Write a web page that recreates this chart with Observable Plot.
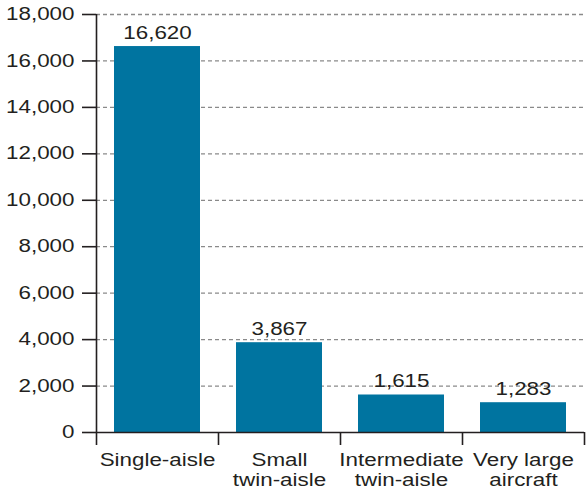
<!DOCTYPE html>
<html>
<head>
<meta charset="utf-8">
<script src="https://cdn.jsdelivr.net/npm/d3@7"></script>
<script src="https://cdn.jsdelivr.net/npm/@observablehq/plot@0.6"></script>
<style>
  html, body { margin: 0; padding: 0; background: #fff; }
</style>
</head>
<body>
<div id="chart"></div>
<script>
const categories = ["Single-aisle", "Small\ntwin-aisle", "Intermediate\ntwin-aisle", "Very large\naircraft"];
const deliveries = [16620, 3867, 1615, 1283];
const yTicks = [0, 2000, 4000, 6000, 8000, 10000, 12000, 14000, 16000, 18000];
const xBoundaries = [0, 1, 2, 3, 4];

const data = categories.map((c, i) => ({c, v: deliveries[i], i}));
const fmt = d3.format(",");
const ink = "#231f20";

const chart = Plot.plot({
  width: 586,
  height: 488,
  marginLeft: 96,
  marginRight: 2,
  marginTop: 14,
  marginBottom: 56,
  style: {fontSize: "17.5px", fontFamily: "'Liberation Sans', Arial, sans-serif", color: ink, background: "#fff"},
  x: {domain: [0, 4], axis: null},
  y: {domain: [0, 18000], axis: null},
  marks: [
    Plot.ruleY(yTicks.filter(t => t > 0), {stroke: "#8a8a8a", strokeDasharray: "4,3", strokeWidth: 1.3}),
    Plot.rectY(data, {x1: "i", x2: d => d.i + 1, y1: 0, y2: "v", insetLeft: 18, insetRight: 18, fill: "#0074a0"}),
    Plot.ruleY([0], {stroke: ink, strokeWidth: 1.6}),
    Plot.ruleX([0], {stroke: ink, strokeWidth: 1.6}),
    Plot.axisY({ticks: yTicks, tickSize: 14, tickPadding: 8, tickFormat: d => fmt(d), label: null, strokeWidth: 1.6}),
    Plot.axisX({ticks: xBoundaries, tickSize: 13, tickFormat: () => "", label: null, strokeWidth: 1.6}),
    Plot.text(data, {x: d => d.i + 0.5, y: 0, text: "c", lineAnchor: "top", dy: 19, lineHeight: 1.14, fill: ink}),
    Plot.text(data, {x: d => d.i + 0.5, y: "v", text: d => fmt(d.v), lineAnchor: "bottom", dy: -8, fill: ink})
  ]
});

chart.querySelectorAll("text").forEach(t => {
  const tr = t.getAttribute("transform") || "";
  t.setAttribute("transform", (tr + " scale(1.28,1)").trim());
});

document.getElementById("chart").appendChild(chart);
</script>
</body>
</html>
